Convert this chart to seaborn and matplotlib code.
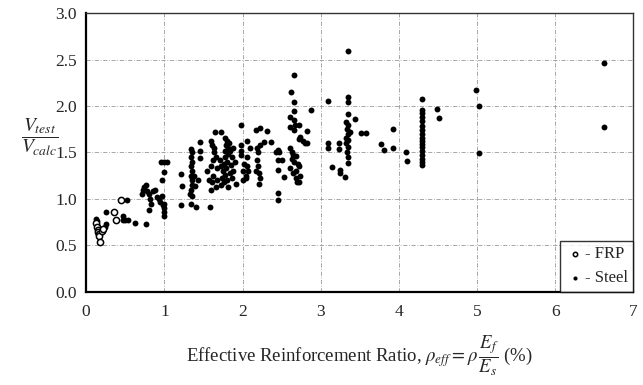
import pandas as pd
import matplotlib.pyplot as plt
import seaborn as sns

sns.set_style('white')
plt.rcParams['font.family'] = ['Liberation Serif', 'DejaVu Serif']
plt.rcParams['mathtext.fontset'] = 'stix'

# FRP specimens (open circles)
frp_x = [0.13, 0.14, 0.15, 0.15, 0.16, 0.17, 0.18, 0.20, 0.22, 0.35, 0.38, 0.44]
frp_y = [0.74, 0.70, 0.67, 0.64, 0.62, 0.60, 0.54, 0.65, 0.68, 0.86, 0.77, 0.99]

# Steel specimens (filled dots)
steel_x = [
    0.13, 0.14, 0.14, 0.15, 0.16, 0.17, 0.24, 0.25, 0.26, 0.47, 0.47, 0.50, 0.54, 0.52, 0.62, 0.76,
    0.72, 0.73, 0.74, 0.76, 0.78, 0.80, 0.82, 0.83, 0.81, 0.85, 0.88, 0.90, 0.93, 0.95, 0.97, 0.98,
    0.99, 1.00, 1.00, 1.00, 0.97, 1.00, 1.00, 1.03, 0.96,
    1.21, 1.23, 1.21, 1.34, 1.35, 1.33, 1.34, 1.35, 1.36, 1.34, 1.35, 1.34, 1.35, 1.34, 1.35, 1.34,
    1.39, 1.38, 1.45, 1.45, 1.45, 1.41, 1.43,
    1.55, 1.57, 1.59, 1.60, 1.61, 1.62, 1.60, 1.62, 1.63, 1.61, 1.60, 1.65, 1.73, 1.64, 1.66, 1.67,
    1.68, 1.66,
    1.72, 1.74, 1.75, 1.76, 1.77, 1.78, 1.79, 1.80, 1.81, 1.82, 1.80, 1.79, 1.78, 1.80, 1.82, 1.84,
    1.85, 1.86, 1.84, 1.83, 1.77, 1.76, 1.73, 1.71, 1.88, 1.87, 1.90, 1.92, 1.88,
    1.98, 1.98, 1.98, 1.98, 2.00, 2.00, 2.02, 2.04, 2.06, 2.06, 2.06, 2.09, 2.05, 2.07, 2.17, 2.22,
    2.18, 2.20, 2.22, 2.19, 2.20, 2.21, 2.22, 2.21, 2.17, 2.27, 2.31, 2.36,
    2.43, 2.45, 2.47, 2.45, 2.50, 2.45, 2.53, 2.45, 2.45,
    2.66, 2.62, 2.66, 2.66, 2.66, 2.67, 2.66, 2.61, 2.61, 2.72, 2.72, 2.74, 2.78, 2.80, 2.82, 2.83,
    2.87, 2.61, 2.63, 2.65, 2.63, 2.66, 2.69, 2.71, 2.61, 2.64, 2.69, 2.68, 2.70, 2.72, 2.72, 2.74,
    3.10, 3.35, 3.35, 3.35, 3.35, 3.33, 3.35, 3.34, 3.35, 3.33, 3.35, 3.32, 3.35, 3.34, 3.35, 3.35,
    3.44, 3.52, 3.58, 3.23, 3.23, 3.10, 3.10, 3.14, 3.25, 3.25, 3.31, 3.37,
    3.92, 3.77, 3.81, 3.92, 4.09, 4.10,
    4.30, 4.30, 4.30, 4.30, 4.30, 4.30, 4.30, 4.30, 4.30, 4.30, 4.30, 4.30, 4.30, 4.30, 4.30, 4.30,
    4.30, 4.49, 4.52,
    4.99, 5.02, 5.03, 6.63, 6.63,
]
steel_y = [
    0.78, 0.76, 0.72, 0.70, 0.66, 0.63, 0.70, 0.86, 0.73, 0.82, 0.77, 0.77, 0.77, 0.99, 0.74, 0.73,
    1.05, 1.10, 1.13, 1.15, 1.08, 1.05, 1.00, 0.95, 0.88, 1.08, 1.10, 1.02, 1.00, 0.97, 1.03, 0.93,
    0.90, 0.86, 0.82, 0.95, 1.20, 1.29, 1.40, 1.40, 1.40,
    1.27, 1.14, 0.93, 0.95, 1.03, 1.05, 1.10, 1.15, 1.20, 1.25, 1.30, 1.35, 1.40, 1.45, 1.50, 1.54,
    1.14, 1.25, 1.44, 1.52, 1.61, 0.91, 1.20,
    1.30, 1.20, 0.91, 1.10, 1.18, 1.25, 1.35, 1.42, 1.50, 1.58, 1.62, 1.72, 1.72, 1.55, 1.45, 1.33,
    1.20, 1.13,
    1.15, 1.22, 1.30, 1.38, 1.45, 1.52, 1.58, 1.62, 1.55, 1.48, 1.40, 1.33, 1.26, 1.20, 1.13, 1.28,
    1.36, 1.45, 1.52, 1.60, 1.66, 1.18, 1.35, 1.42, 1.30, 1.22, 1.40, 1.16, 1.55,
    1.80, 1.58, 1.52, 1.47, 1.30, 1.20, 1.38, 1.25, 1.62, 1.45, 1.35, 1.55, 1.22, 1.30, 1.74, 1.76,
    1.55, 1.50, 1.58, 1.42, 1.35, 1.28, 1.22, 1.16, 1.30, 1.61, 1.73, 1.61,
    1.50, 1.53, 1.50, 1.42, 1.42, 1.31, 1.24, 1.06, 0.99,
    2.33, 2.15, 2.04, 1.95, 1.85, 1.80, 1.74, 1.88, 1.77, 1.80, 1.65, 1.67, 1.62, 1.60, 1.60, 1.73,
    1.96, 1.55, 1.50, 1.47, 1.43, 1.40, 1.46, 1.38, 1.33, 1.28, 1.30, 1.22, 1.18, 1.18, 1.35, 1.25,
    2.05, 2.59, 2.10, 2.04, 1.91, 1.83, 1.80, 1.75, 1.70, 1.66, 1.63, 1.60, 1.56, 1.50, 1.45, 1.39,
    1.86, 1.71, 1.71, 1.60, 1.54, 1.60, 1.55, 1.34, 1.31, 1.28, 1.24, 1.72,
    1.75, 1.59, 1.53, 1.55, 1.50, 1.41,
    2.08, 1.96, 1.92, 1.88, 1.84, 1.78, 1.74, 1.70, 1.66, 1.62, 1.59, 1.56, 1.52, 1.47, 1.43, 1.40,
    1.37, 1.97, 1.87,
    2.17, 2.00, 1.49, 2.46, 1.77,
]

x_ticks = [0, 1, 2, 3, 4, 5, 6, 7]
y_ticks = [0.0, 0.5, 1.0, 1.5, 2.0, 2.5, 3.0]

frp = pd.DataFrame({'rho': frp_x, 'ratio': frp_y})
steel = pd.DataFrame({'rho': steel_x, 'ratio': steel_y})

fig = plt.figure(figsize=(6.43, 3.85), dpi=100)
ax = fig.add_axes([0.134, 0.242, 0.851, 0.724])

sns.scatterplot(data=steel, x='rho', y='ratio', ax=ax, color='black', s=18,
                marker='o', edgecolor='black', linewidth=0, label='- Steel', zorder=3)
sns.scatterplot(data=frp, x='rho', y='ratio', ax=ax, facecolor='white', s=20,
                marker='o', edgecolor='black', linewidth=1.1, label='- FRP', zorder=4)

ax.set_xlim(0, 7)
ax.set_ylim(0, 3)
ax.set_xticks(x_ticks)
ax.set_yticks(y_ticks)
ax.set_yticklabels([f'{v:.1f}' for v in y_ticks])
ax.tick_params(direction='out', length=3, width=0.8, labelsize=12.5, color='black')
ax.tick_params(axis='x', pad=6)

ax.grid(True, color='#999999', linestyle=(0, (5, 2, 1, 2)), linewidth=0.6)
ax.set_axisbelow(True)

for side in ['left', 'bottom']:
    ax.spines[side].set_linewidth(1.6)
    ax.spines[side].set_color('black')
for side in ['top', 'right']:
    ax.spines[side].set_linewidth(1.0)
    ax.spines[side].set_color('#333333')

ax.set_xlabel(r'Effective Reinforcement Ratio, $\rho_{eff} = \rho\,\dfrac{E_f}{E_s}$ (%)',
              fontsize=13.5, labelpad=10)
ax.set_ylabel(r'$\dfrac{V_{test}}{V_{calc}}$', fontsize=14, rotation=0, labelpad=18)
ax.yaxis.set_label_coords(-0.085, 0.48)

handles, labels = ax.get_legend_handles_labels()
leg = ax.legend(handles[::-1], labels[::-1], loc='lower right', borderaxespad=0,
                fancybox=False, edgecolor='black', fontsize=12, handletextpad=0.1,
                handlelength=1.0, markerscale=0.7, labelspacing=0.45, borderpad=0.35)
leg.get_frame().set_linewidth(1.0)

plt.savefig('out.png', dpi=100)
